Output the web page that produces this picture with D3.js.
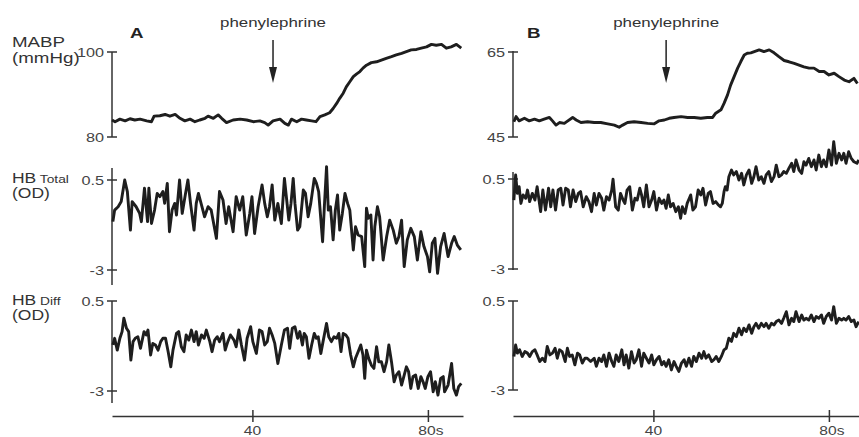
<!DOCTYPE html>
<html>
<head>
<meta charset="utf-8">
<script src="https://cdn.jsdelivr.net/npm/d3@7"></script>
<style>
  body { margin: 0; background: #fff; }
  text { font-family: "Liberation Sans", Arial, sans-serif; fill: #333; }
</style>
</head>
<body>
<div id="chart"></div>
<script>
// ---- data (time in s) ----
const timeTicks = [40, 80];
const hbTicks = [-3, 0.5];
const mabpTicksA = [80, 100];
const mabpTicksB = [45, 65];
const arrowTimes = [44.7, 42.9]; // phenylephrine injection, panel A and B

// panel A, MABP (mmHg)
const tMabpA = [8.0,8.7,9.8,11.0,12.1,13.2,14.4,15.9,17.0,17.6,18.9,20.1,21.2,22.4,23.5,24.6,25.8,26.9,28.0,29.2,29.9,31.1,32.2,33.0,34.1,35.6,37.2,38.7,40.2,41.7,42.8,43.6,44.7,46.3,47.4,48.2,48.9,50.1,51.2,52.3,53.5,54.5,55.4,56.5,57.6,58.4,59.2,59.9,60.7,61.4,62.2,63.0,63.7,64.5,65.2,66.0,67.1,68.3,69.4,70.5,71.7,72.8,74.0,75.1,76.2,77.4,78.5,79.7,80.8,81.9,83.1,84.2,85.3,86.5,87.6];
const mabpA = [84.0,83.6,84.2,83.8,84.3,84.0,84.2,83.8,83.6,84.9,85.0,85.3,84.9,85.3,84.4,83.8,84.2,83.6,84.0,84.4,84.9,84.4,85.2,84.4,83.4,84.0,84.2,84.0,83.6,83.8,83.4,82.8,83.8,84.2,83.2,82.8,84.2,83.6,84.2,84.0,83.8,83.6,84.8,85.2,85.7,86.7,87.9,89.1,90.3,91.8,93.0,94.2,94.8,95.4,96.2,96.9,97.5,97.7,98.1,98.5,98.9,99.3,99.7,100.1,100.5,100.6,100.9,101.2,101.8,101.6,101.8,100.9,101.2,101.8,100.9];

// panel A, HB total (OD)
const tTotalA = [8.2,8.6,9.4,10.1,10.9,11.5,12.2,12.6,13.5,14.3,14.7,15.4,16.1,16.4,17.0,17.7,18.3,18.9,19.6,20.0,20.6,21.1,21.7,22.3,22.7,23.4,24.0,24.7,25.3,25.9,26.7,27.2,27.7,28.5,29.1,29.9,30.6,31.8,32.5,33.3,34.0,34.6,35.6,36.3,37.1,37.8,38.6,39.4,39.9,40.5,41.3,42.2,42.8,43.4,43.9,44.5,45.1,45.8,46.6,47.3,
  48.3,48.8,49.3,49.7,50.3,50.8,51.6,52.1,52.7,53.3,54.1,54.6,55.1,56.0,56.4,56.9,57.3,57.8,58.4,58.9,59.4,59.9,60.5,61.1,61.7,62.2,63.0,63.5,64.1,64.9,65.6,66.0,66.4,67.0,67.5,67.9,68.5,69.0,69.8,70.6,71.3,72.1,72.8,73.4,74.0,74.6,75.3,76.1,76.9,77.6,78.4,79.1,79.9,80.4,81.0,81.6,82.2,82.9,83.7,84.6,85.4,86.0,86.7,87.5];
const totalA = [-1.12,-0.67,-0.54,-0.34,0.50,0.05,-1.45,-0.34,-0.54,-0.80,-1.12,0.18,-1.12,0.18,-1.19,-0.67,-0.02,-0.15,0.05,-0.41,0.37,-1.51,-0.67,-0.41,-0.86,0.50,-0.80,-0.08,0.50,-0.41,-1.45,-0.41,-0.02,-0.54,-0.93,-0.54,-0.67,-1.77,0.05,-0.28,-1.19,-0.54,-1.51,-0.15,-0.67,-0.15,-1.64,-0.80,-0.15,-1.58,-0.54,0.31,-0.41,-0.93,-0.54,0.31,-1.06,-0.41,-1.19,0.56,
  -1.06,-0.41,0.56,-0.41,-1.45,-1.32,0.11,-0.02,-0.93,-0.41,0.56,0.37,0.05,-1.90,-0.54,1.02,-0.67,-0.54,-1.83,-0.67,-0.08,-1.45,-0.80,-0.02,-0.41,-0.67,-2.22,-1.32,-1.64,-1.70,-2.87,-0.60,-0.99,-0.86,-2.61,-1.32,-0.54,-0.93,-2.61,-1.70,-1.06,-1.45,-1.96,-1.70,-1.06,-2.87,-1.83,-1.38,-1.70,-2.61,-1.51,-2.09,-2.48,-3.07,-1.96,-1.77,-3.13,-2.09,-1.58,-2.48,-1.96,-1.70,-2.03,-2.22];

// panel A, HB diff (OD)
const tDiffA = [8.2,8.6,9.2,9.8,10.3,10.7,11.3,11.8,12.3,12.8,13.3,13.9,14.5,15.3,15.8,16.2,16.8,17.3,17.9,18.5,19.1,19.6,20.2,20.8,21.4,21.9,22.7,23.2,23.8,24.4,24.9,25.5,26.1,26.7,27.2,27.7,28.4,29.0,29.5,30.3,30.8,31.4,32.0,32.5,33.3,33.8,34.4,35.0,35.8,36.3,36.9,37.5,38.2,38.8,39.6,40.1,40.9,41.6,42.2,42.8,43.4,43.9,44.5,45.1,45.8,46.6,47.3,
  48.0,48.5,49.1,49.7,50.3,50.8,51.4,51.8,52.3,52.9,53.5,54.1,54.6,55.0,55.6,56.1,56.9,57.4,58.0,58.6,59.2,59.7,60.2,60.7,61.3,61.8,62.4,63.0,63.5,64.1,64.7,65.2,65.6,66.0,66.5,67.1,67.7,68.3,68.8,69.4,70.0,70.6,71.1,71.7,72.3,72.8,73.4,74.0,74.6,75.1,75.6,76.1,76.6,77.2,77.8,78.4,78.9,79.4,80.0,80.6,81.2,81.7,82.3,82.9,83.5,83.8,84.6,85.4,85.9,86.5,87.0,87.6];
const diffA = [-1.21,-0.95,-1.41,-0.95,-0.69,-0.17,-0.56,-0.69,-1.80,-1.08,-0.95,-0.89,-1.34,-0.69,-0.82,-0.63,-1.60,-1.15,-1.21,-1.41,-1.08,-0.95,-0.95,-1.47,-2.06,-1.41,-0.76,-0.69,-1.28,-1.47,-0.82,-1.02,-0.63,-1.08,-0.69,-1.21,-0.82,-0.95,-0.63,-1.08,-1.47,-1.02,-0.89,-1.08,-0.76,-1.41,-1.08,-0.82,-1.02,-1.28,-0.63,-1.21,-1.80,-0.95,-0.50,-1.08,-1.54,-0.63,-0.69,-1.21,-1.08,-0.56,-0.82,-1.15,-1.93,-1.21,-0.63,
  -0.56,-1.34,-0.56,-0.50,-0.95,-0.69,-1.21,-0.76,-0.89,-1.73,-1.21,-0.76,-0.95,-0.89,-1.54,-1.08,-0.37,-0.89,-1.08,-0.89,-0.95,-0.76,-1.47,-0.76,-0.82,-0.95,-1.60,-2.06,-1.73,-1.47,-1.21,-1.60,-2.51,-1.41,-1.73,-1.99,-2.12,-1.28,-1.86,-1.86,-2.25,-1.86,-1.21,-1.86,-2.64,-2.38,-2.25,-2.77,-2.38,-2.06,-2.25,-2.90,-2.44,-2.38,-2.90,-2.44,-2.64,-2.90,-2.44,-2.25,-3.03,-2.64,-3.16,-2.51,-2.44,-3.03,-2.77,-1.93,-2.90,-3.16,-2.83,-2.70];

// panel B, MABP (mmHg)
const tMabpB = [8.2,8.7,9.4,10.6,11.7,12.9,14.0,15.1,16.3,17.0,17.8,18.6,19.7,20.5,21.6,22.4,23.5,25.0,26.5,28.0,29.6,31.1,32.2,33.0,34.1,35.6,37.2,38.7,40.2,41.3,42.5,43.6,44.7,46.3,47.8,49.3,50.8,52.3,53.5,54.2,55.4,56.1,56.9,57.6,58.4,59.2,59.9,60.7,61.4,62.2,63.0,64.1,65.2,66.4,67.5,68.6,69.8,70.9,72.1,73.2,74.3,75.5,76.6,77.8,78.9,80.0,81.2,82.3,83.5,84.6,85.7,86.5];
const mabpB = [48.6,49.8,48.8,49.4,48.8,49.2,48.8,49.2,49.6,48.8,47.8,48.4,48.2,48.8,49.6,49.0,48.4,48.6,48.4,48.4,48.1,47.8,47.3,47.8,48.4,48.6,48.4,48.2,48.1,48.8,49.0,49.4,49.6,49.8,49.6,49.6,49.4,49.6,49.6,50.6,51.4,52.9,54.9,57.2,59.2,61.2,62.7,64.3,64.7,64.8,65.1,65.5,65.1,65.5,64.8,63.9,63.0,62.7,62.3,61.9,61.5,61.2,61.2,60.4,60.4,59.6,60.0,59.2,58.4,58.0,58.8,57.6];

// panel B, HB total (OD)
const tTotalB = [8.2,8.6,9.0,9.4,9.8,10.3,10.9,11.3,11.8,12.4,13.0,13.5,14.3,14.8,15.4,16.1,16.6,17.1,17.7,18.3,18.9,19.4,20.0,20.6,21.1,21.7,22.3,22.9,23.4,24.0,24.7,25.3,25.9,26.5,27.0,27.6,28.2,28.7,29.3,29.9,30.5,30.8,31.4,32.0,32.5,33.1,33.5,34.0,34.6,35.2,35.8,36.3,36.9,37.3,37.8,38.4,39.0,39.6,40.1,40.7,41.3,41.9,42.4,42.9,43.4,43.9,44.5,45.1,45.7,46.2,46.6,47.2,47.7,48.5,49.0,49.6,50.2,50.8,51.3,51.9,52.5,53.0,53.6,54.2,54.8,55.3,55.7,56.1,56.4,56.8,57.2,57.8,58.3,58.9,59.5,60.1,60.6,61.2,61.8,62.4,62.9,63.4,64.0,64.6,65.2,65.7,66.3,66.9,67.5,68.0,68.6,69.2,69.7,70.3,70.9,71.5,72.0,72.5,73.2,73.8,74.3,74.8,75.4,76.0,76.6,77.1,77.7,78.3,78.8,79.4,80.0,80.6,81.1,81.7,82.3,82.9,83.4,83.9,84.5,85.1,85.7,86.4,86.8];
const totalB = [-0.32,0.66,-0.06,0.20,-0.45,-0.12,-0.25,0.07,-0.38,-0.06,-0.32,0.20,-0.77,0.07,-0.71,0.14,-0.58,0.07,-0.71,0.07,0.14,-0.51,0.14,0.07,-0.58,0.07,-0.38,-0.06,0.01,-0.58,-0.19,-0.38,-0.77,-0.06,-0.51,-0.06,-0.25,-0.71,-0.19,-0.32,0.07,0.49,-0.58,-0.71,-0.06,-0.32,-0.45,0.07,0.20,-0.71,-0.25,-0.32,0.14,-0.12,-0.58,0.27,-0.58,-0.32,0.01,-0.71,-0.25,-0.45,-0.32,-0.64,-0.12,-0.58,-0.45,-0.77,-0.58,-1.03,-0.58,-0.84,-0.45,-0.12,-0.71,-0.58,0.07,-0.12,0.14,-0.51,-0.06,0.01,-0.45,-0.38,-0.51,-0.58,-0.45,0.01,0.20,0.07,0.59,0.85,0.66,0.79,0.46,0.72,0.27,0.66,0.85,0.33,0.59,0.98,0.46,0.59,0.33,0.66,0.79,0.40,0.59,1.04,0.59,0.66,0.79,0.72,0.92,1.11,0.79,1.24,0.85,0.72,1.17,1.04,1.30,0.98,1.24,0.85,1.43,0.98,1.24,0.98,1.63,1.04,1.95,1.11,1.50,1.24,1.50,1.11,1.56,1.30,1.17,1.11,1.24];

// panel B, HB diff (OD)
const tDiffB = [8.2,8.6,9.0,9.5,10.1,10.7,11.3,11.8,12.4,13.0,13.5,14.1,14.7,15.3,15.8,16.4,17.0,17.6,18.1,18.6,19.2,19.9,20.4,20.9,21.5,22.1,22.7,23.2,23.8,24.4,24.9,25.7,26.5,27.0,27.6,28.2,28.7,29.3,29.9,30.5,31.0,31.5,32.1,32.8,33.3,33.8,34.4,35.0,35.6,36.1,36.7,37.3,37.8,38.4,39.0,39.6,40.1,40.7,41.3,41.9,42.4,42.9,43.5,44.1,44.7,45.2,45.8,46.4,47.0,47.5,48.1,48.7,49.2,49.8,50.4,51.0,51.5,52.0,52.6,53.3,53.8,54.3,54.9,55.5,56.1,56.6,57.2,57.8,58.3,58.9,59.5,60.1,60.6,61.2,61.8,62.4,62.9,63.4,64.0,64.6,65.2,65.7,66.3,66.9,67.5,68.0,68.6,69.2,69.7,70.3,70.9,71.5,72.0,72.5,73.2,73.8,74.3,74.8,75.4,76.0,76.6,77.1,77.7,78.3,78.8,79.4,80.0,80.6,81.1,81.7,82.3,82.9,83.4,83.9,84.5,85.1,85.7,86.2,86.8];
const diffB = [-1.68,-1.23,-1.55,-1.42,-1.68,-1.49,-1.55,-1.68,-1.49,-1.42,-1.62,-1.88,-1.75,-1.88,-1.29,-1.62,-1.55,-1.36,-1.75,-1.42,-1.49,-1.88,-1.36,-1.68,-1.62,-2.01,-1.55,-1.62,-1.94,-1.75,-1.75,-1.88,-1.75,-2.07,-1.75,-1.88,-1.62,-2.07,-1.55,-1.88,-2.07,-1.62,-1.88,-1.42,-2.01,-1.62,-2.14,-1.49,-1.94,-1.81,-1.42,-2.07,-1.55,-1.75,-1.94,-1.62,-2.01,-1.81,-1.68,-2.01,-1.88,-2.07,-1.81,-2.21,-1.88,-2.07,-2.27,-1.94,-1.81,-2.07,-1.75,-2.07,-1.68,-1.88,-1.55,-1.75,-1.49,-1.75,-1.62,-1.88,-1.81,-1.68,-1.88,-1.68,-1.42,-1.36,-0.96,-1.09,-0.77,-0.90,-0.57,-0.83,-0.57,-0.70,-0.44,-0.77,-0.51,-0.38,-0.57,-0.38,-0.51,-0.38,-0.57,-0.38,-0.44,-0.31,-0.25,-0.38,-0.18,0.08,-0.44,-0.18,-0.31,0.08,-0.31,-0.05,-0.25,-0.18,-0.25,-0.05,-0.31,-0.11,-0.18,-0.05,-0.38,-0.11,0.02,-0.25,0.28,-0.38,-0.18,-0.25,-0.18,-0.25,-0.11,-0.31,-0.25,-0.51,-0.31];

// ---- layout ----
const width = 859;
const height = 437;
const SX = 1.25; // glyphs in the original figure are stretched sideways
const traceColor = "#1e1e1e";
const axisColor = "#333";
const xAxisY = 416;

const svg = d3.select("#chart")
    .append("svg")
    .attr("width", width)
    .attr("height", height);

const addText = (g, x, y, str, size, anchor = "start", weight = "normal") =>
    g.append("text")
        .attr("transform", `translate(${x},${y}) scale(${SX},1)`)
        .attr("text-anchor", anchor)
        .attr("font-size", size + "px")
        .attr("font-weight", weight)
        .text(str);

const panels = [
    {
        letter: "A", x0: 112, arrowT: arrowTimes[0],
        rows: [
            {t: tMabpA, v: mabpA, domain: [80, 100], ticks: mabpTicksA, px: [137, 52], span: [52, 137]},
            {t: tTotalA, v: totalA, domain: [-3, 0.5], ticks: hbTicks, px: [270, 180], span: [168, 285]},
            {t: tDiffA, v: diffA, domain: [-3, 0.5], ticks: hbTicks, px: [391, 301], span: [301, 403]}
        ]
    },
    {
        letter: "B", x0: 513, arrowT: arrowTimes[1],
        rows: [
            {t: tMabpB, v: mabpB, domain: [45, 65], ticks: mabpTicksB, px: [137, 52], span: [51, 137]},
            {t: tTotalB, v: totalB, domain: [-3, 0.5], ticks: hbTicks, px: [269, 179], span: [172, 270]},
            {t: tDiffB, v: diffB, domain: [-3, 0.5], ticks: hbTicks, px: [390, 301], span: [301, 390]}
        ]
    }
];

panels.forEach((p) => {
    const g = svg.append("g");
    const x = d3.scaleLinear().domain([8, 88]).range([p.x0, p.x0 + 351]);

    p.rows.forEach((row) => {
        const y = d3.scaleLinear().domain(row.domain).range(row.px);

        // vertical axis line with crossing ticks
        g.append("line")
            .attr("x1", p.x0).attr("x2", p.x0)
            .attr("y1", row.span[0]).attr("y2", row.span[1])
            .attr("stroke", axisColor).attr("stroke-width", 1.5);

        row.ticks.forEach((tk) => {
            g.append("line")
                .attr("x1", p.x0 - 5).attr("x2", p.x0 + 5)
                .attr("y1", y(tk)).attr("y2", y(tk))
                .attr("stroke", axisColor).attr("stroke-width", 1.5);
            addText(g, p.x0 - 8, y(tk) + 4.5, String(tk), 13, "end").style("fill", "#444");
        });

        // trace
        const line = d3.line()
            .x((d, i) => x(row.t[i]))
            .y((d) => y(d));
        g.append("path")
            .attr("d", line(row.v))
            .attr("fill", "none")
            .attr("stroke", traceColor)
            .attr("stroke-width", 2.9)
            .attr("stroke-linejoin", "round");
    });

    // time axis
    g.append("g")
        .attr("transform", `translate(0,${xAxisY})`)
        .call(d3.axisBottom(x).tickValues(timeTicks).tickSize(6).tickSizeOuter(0).tickFormat(""))
        .call((a) => a.select(".domain").attr("stroke", axisColor).attr("stroke-width", 1.5))
        .call((a) => a.selectAll(".tick line").attr("y1", -6).attr("stroke", axisColor).attr("stroke-width", 1.5));

    timeTicks.forEach((tk) => {
        addText(g, x(tk) + (tk === 80 ? 3 : 0), 435, tk === 80 ? "80s" : String(tk), 12.5, "middle").style("fill", "#444");
    });

    // panel letter
    addText(g, p.x0 + (p.letter === "A" ? 18 : 14), 38, p.letter, 15, "start", "bold").style("fill", "#222");

    // phenylephrine arrow
    const ax = x(p.arrowT);
    addText(g, ax, 27, "phenylephrine", 13.5, "middle");
    g.append("line")
        .attr("x1", ax).attr("x2", ax)
        .attr("y1", 40).attr("y2", 70)
        .attr("stroke", "#222").attr("stroke-width", 1.5);
    g.append("path")
        .attr("d", `M${ax - 4},67 L${ax + 4},67 L${ax},83 Z`)
        .attr("fill", "#222");
});

// row labels
const lab = svg.append("g");
addText(lab, 12, 47, "MABP", 15);
addText(lab, 12, 63, "(mmHg)", 15);

const hbLabel = (y, sub) => {
    const t = addText(lab, 12, y, "HB", 14);
    t.append("tspan").attr("font-size", "11px").text(" " + sub);
};
hbLabel(183, "Total");
addText(lab, 12, 198, "(OD)", 14);
hbLabel(305, "Diff");
addText(lab, 12, 320, "(OD)", 14);
</script>
</body>
</html>
